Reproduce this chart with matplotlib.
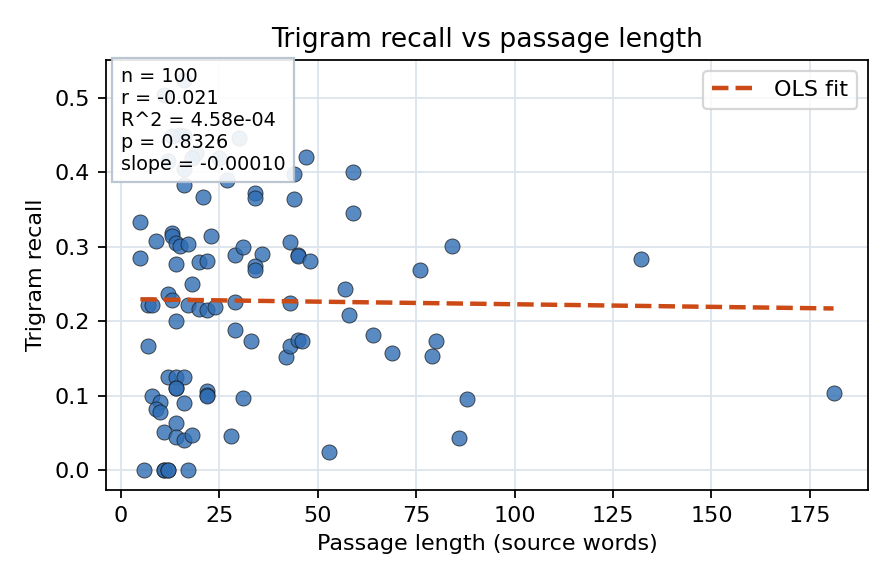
import matplotlib
matplotlib.use("Agg")
import matplotlib.pyplot as plt
import numpy as np

# Passage length (source words) and trigram recall
passage_len = [
    6, 11, 11, 12, 12, 17, 7, 12, 14, 16, 14, 14, 8, 10, 9, 10, 16, 14, 11, 14,
    16, 18, 22, 22, 22, 31, 28, 33, 42, 43, 45, 46, 5, 9, 13, 13, 14, 15, 17, 5,
    14, 20, 22, 18, 12, 7, 8, 13, 17, 20, 22, 24, 14, 23, 29, 31, 36, 34, 34, 43,
    45, 45, 29, 29, 43, 16, 11, 15, 16, 13, 19, 18, 12, 16, 25, 27, 30, 16, 21, 34,
    34, 44, 44, 47, 59, 59, 48, 76, 84, 57, 58, 64, 69, 80, 79, 88, 86, 53, 132, 181,
]
trigram_recall = [
    0.0, 0.0, 0.0, 0.0, 0.0, 0.0, 0.167, 0.125, 0.125, 0.125, 0.111, 0.110, 0.100,
    0.092, 0.083, 0.078, 0.090, 0.063, 0.052, 0.045, 0.041, 0.048, 0.106, 0.101,
    0.100, 0.097, 0.046, 0.173, 0.152, 0.167, 0.175, 0.174, 0.333, 0.308, 0.319,
    0.315, 0.305, 0.301, 0.304, 0.285, 0.277, 0.280, 0.281, 0.250, 0.236, 0.222,
    0.222, 0.228, 0.222, 0.217, 0.215, 0.219, 0.200, 0.314, 0.289, 0.299, 0.290,
    0.274, 0.269, 0.306, 0.289, 0.288, 0.226, 0.189, 0.224, 0.524, 0.503, 0.450,
    0.449, 0.448, 0.426, 0.419, 0.415, 0.404, 0.419, 0.390, 0.446, 0.383, 0.367,
    0.372, 0.366, 0.397, 0.364, 0.420, 0.400, 0.345, 0.281, 0.269, 0.301, 0.243,
    0.208, 0.182, 0.158, 0.173, 0.154, 0.096, 0.044, 0.025, 0.284, 0.104,
]
stats_lines = ["n = 100", "r = -0.021", "R^2 = 4.58e-04", "p = 0.8326",
               "slope = -0.00010"]

x = np.array(passage_len, dtype=float)
y = np.array(trigram_recall)

fig, ax = plt.subplots(figsize=(896 / 160, 584 / 160), dpi=160)
fig.subplots_adjust(left=0.118, right=0.969, top=0.897, bottom=0.161)

ax.set_axisbelow(True)
ax.grid(True, color="#dde3eb", linewidth=0.8)

ax.scatter(x, y, s=46, color="#2f6db3", alpha=0.8,
           edgecolors="#1a1a1a", linewidths=0.4, zorder=2)

# OLS fit over the observed range
slope, intercept = np.polyfit(x, y, 1)
xs = np.array([x.min(), x.max()])
ax.plot(xs, intercept + slope * xs, "--", color="#cc4a16",
        linewidth=2, label="OLS fit", zorder=3)

ax.text(0.02, 0.985, "\n".join(stats_lines), transform=ax.transAxes,
        fontsize=8.6, va="top", ha="left", zorder=4,
        bbox=dict(boxstyle="square,pad=0.45", facecolor="white",
                  edgecolor="#b5c0cf", alpha=0.9))

ax.legend(loc="upper right")
ax.set_xticks([0, 25, 50, 75, 100, 125, 150, 175])
ax.set_title("Trigram recall vs passage length")
ax.set_xlabel("Passage length (source words)")
ax.set_ylabel("Trigram recall")

plt.savefig("out.png", dpi=160)
